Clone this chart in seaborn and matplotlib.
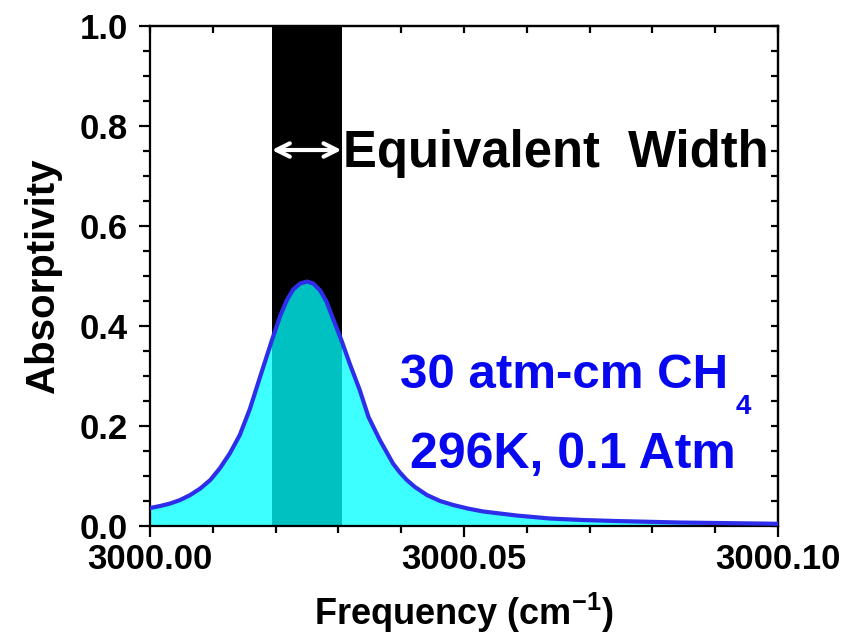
import numpy as np
import pandas as pd
import matplotlib
matplotlib.use('Agg')
import matplotlib.pyplot as plt
import seaborn as sns
from matplotlib.ticker import MultipleLocator, NullFormatter

# ---- data ----
freq = [3000.0000, 3000.0016, 3000.0032, 3000.0048, 3000.0064, 3000.0080,
        3000.0096, 3000.0111, 3000.0127, 3000.0143, 3000.0159, 3000.0175,
        3000.0194, 3000.0207, 3000.0218, 3000.0228, 3000.0239, 3000.0250,
        3000.0260, 3000.0271, 3000.0281, 3000.0292, 3000.0305, 3000.0318,
        3000.0334, 3000.0348, 3000.0366, 3000.0387, 3000.0398, 3000.0409,
        3000.0422, 3000.0441, 3000.0462, 3000.0483, 3000.0506, 3000.0531,
        3000.0584, 3000.0637, 3000.0690, 3000.0743, 3000.0844, 3000.1000]
absorb = [0.036, 0.040, 0.045, 0.052, 0.062, 0.075,
          0.092, 0.115, 0.145, 0.182, 0.234, 0.297,
          0.371, 0.419, 0.452, 0.473, 0.485, 0.489,
          0.485, 0.471, 0.449, 0.413, 0.371, 0.325,
          0.272, 0.218, 0.172, 0.125, 0.107, 0.092,
          0.078, 0.062, 0.050, 0.042, 0.035, 0.029,
          0.021, 0.015, 0.012, 0.010, 0.007, 0.0045]
band_lo, band_hi = 3000.0194, 3000.0305
xticks = [3000.00, 3000.05, 3000.10]
xticklabels = ['3000.00', '3000.05', '3000.10']
yticks = [0.0, 0.2, 0.4, 0.6, 0.8, 1.0]
yticklabels = ['0.0', '0.2', '0.4', '0.6', '0.8', '1.0']
ann_text = 'Equivalent  Width'
line1 = '30 atm-cm CH'
line1_sub = '4'
line2 = '296K, 0.1 Atm'

sns.set_style('ticks')
plt.rcParams['font.family'] = ['Liberation Sans', 'DejaVu Sans']
plt.rcParams['font.weight'] = 'bold'
plt.rcParams['text.color'] = 'black'
plt.rcParams['axes.labelcolor'] = 'black'
plt.rcParams['xtick.color'] = 'black'
plt.rcParams['ytick.color'] = 'black'
plt.rcParams['mathtext.fontset'] = 'custom'
plt.rcParams['mathtext.rm'] = 'Liberation Sans:bold'
plt.rcParams['mathtext.bf'] = 'Liberation Sans:bold'
plt.rcParams['mathtext.it'] = 'Liberation Sans:bold'
plt.rcParams['mathtext.default'] = 'bf'

fig = plt.figure(figsize=(8.59, 6.39), dpi=100)
ax = fig.add_axes([0.1746, 0.1768, 0.7311, 0.7825])

df = pd.DataFrame({'freq': freq, 'abs': absorb})

ax.axvspan(band_lo, band_hi, color='black', lw=0, zorder=1)
ax.fill_between(df['freq'], 0, df['abs'], color='#00FFFF', alpha=0.76, lw=0, zorder=2)
sns.lineplot(data=df, x='freq', y='abs', ax=ax, color='#2E2EEA', lw=3.0, zorder=3,
             solid_joinstyle='round', solid_capstyle='round')

ax.set_xlim(3000.0, 3000.1)
ax.set_ylim(0, 1.0)
ax.set_xticks(xticks)
ax.set_xticklabels(xticklabels)
ax.set_yticks(yticks)
ax.set_yticklabels(yticklabels)
ax.xaxis.set_minor_locator(MultipleLocator(0.01))
ax.yaxis.set_minor_locator(MultipleLocator(0.05))
ax.tick_params(which='major', direction='out', length=8, width=1.6,
               labelsize=25, colors='black', labelcolor='black')
ax.tick_params(which='minor', direction='out', length=5, width=1.6)
ax.tick_params(axis='x', pad=4)
ax.tick_params(axis='y', pad=8)
for lab in ax.get_xticklabels() + ax.get_yticklabels():
    lab.set_fontweight('bold')

for sp in ax.spines.values():
    sp.set_visible(True)
    sp.set_linewidth(1.6)
    sp.set_color('black')

secx = ax.secondary_xaxis('top')
secx.xaxis.set_major_locator(MultipleLocator(0.01))
secx.xaxis.set_major_formatter(NullFormatter())
secx.tick_params(direction='in', length=5, width=1.6, colors='black')
secx.spines['top'].set_linewidth(1.6)
secy = ax.secondary_yaxis('right')
secy.yaxis.set_major_locator(MultipleLocator(0.05))
secy.yaxis.set_major_formatter(NullFormatter())
secy.tick_params(direction='in', length=5, width=1.6, colors='black')
secy.spines['right'].set_linewidth(1.6)

ax.set_xlabel(r'Frequency (cm$^{-1}$)', fontsize=26, fontweight='bold', color='black')
ax.set_ylabel('Absorptivity', fontsize=29, fontweight='bold', color='black')
ax.xaxis.set_label_coords(0.5, -0.130)
ax.yaxis.set_label_coords(-0.14, 0.5)

ax.annotate('', xy=(band_lo, 0.752), xytext=(band_hi, 0.752),
            arrowprops=dict(arrowstyle='<->', color='white', lw=3,
                            mutation_scale=24, shrinkA=0, shrinkB=0), zorder=5)
ax.text(3000.0308, 0.745, ann_text, fontsize=36.5, fontweight='bold',
        ha='left', va='center', color='black', zorder=5)

blue = '#0808F0'
ax.text(3000.0660, 0.2753, line1, fontsize=35.5, fontweight='bold', color=blue,
        ha='center', va='baseline', zorder=5)
ax.text(3000.0932, 0.264, line1_sub, fontsize=20, fontweight='bold', color=blue,
        ha='left', va='top', zorder=5)
ax.text(3000.0673, 0.116, line2, fontsize=36, fontweight='bold', color=blue,
        ha='center', va='baseline', zorder=5)

fig.savefig('out.png', dpi=100)
